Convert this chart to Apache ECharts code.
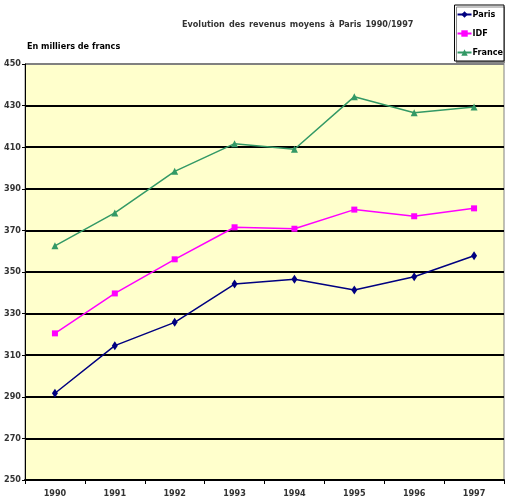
<!DOCTYPE html>
<html>
<head>
<meta charset="utf-8">
<script src="https://cdn.jsdelivr.net/npm/echarts@6/dist/echarts.min.js"></script>
<style>
  html, body { margin: 0; padding: 0; background: #fff; }
  #chart { width: 505px; height: 504px; }
</style>
</head>
<body>
<div id="chart"></div>
<script>
// données
const years = ['1990', '1991', '1992', '1993', '1994', '1995', '1996', '1997'];
const paris = [291.7, 314.6, 325.8, 344.2, 346.5, 341.3, 347.7, 357.8];
const idf = [320.5, 339.7, 356.1, 371.5, 370.8, 380.0, 376.8, 380.6];
const france = [362.6, 378.4, 398.4, 411.7, 409.0, 434.3, 426.6, 429.3];

const font = '"DejaVu Sans Condensed", "DejaVu Sans", sans-serif';

const chart = echarts.init(document.getElementById('chart'));

const gridColors = ['#000', '#000', '#000', '#000', '#000', '#000', '#000', '#000', '#000', '#000', '#808080'];

const option = {
  animation: false,
  backgroundColor: '#fff',
  title: {
    text: 'Evolution\u2002des\u2002revenus\u2002moyens\u2002à\u2002Paris\u20021990/1997',
    left: 182,
    top: 20,
    padding: 0,
    textStyle: { fontFamily: font, fontWeight: 'bold', fontSize: 9, color: '#333' }
  },
  legend: {
    orient: 'vertical',
    right: 1,
    top: 5,
    itemWidth: 14,
    itemHeight: 8,
    itemGap: 10,
    padding: [5, 1, 4, 2],
    borderColor: '#000',
    borderWidth: 1,
    backgroundColor: '#fff',
    shadowColor: '#888',
    shadowBlur: 0,
    shadowOffsetX: 2,
    shadowOffsetY: 2,
    textStyle: { fontFamily: font, fontWeight: 'bold', fontSize: 9, color: '#000', padding: [0, 0, 0, -4] },
    data: ['Paris', 'IDF', 'France']
  },
  grid: {
    left: 25,
    right: 1,
    top: 64,
    bottom: 24,
    show: true,
    backgroundColor: '#FFFFCC',
    borderColor: '#808080',
    borderWidth: 1
  },
  xAxis: {
    type: 'category',
    data: years,
    boundaryGap: true,
    axisLine: { lineStyle: { color: '#000', width: 2 } },
    axisTick: { show: true, length: 4, lineStyle: { color: '#000' } },
    axisLabel: { fontFamily: font, fontWeight: 'bold', fontSize: 9, color: '#333', margin: 9 }
  },
  yAxis: {
    type: 'value',
    min: 250,
    max: 450,
    interval: 20,
    name: 'En milliers de francs',
    nameLocation: 'end',
    nameGap: 13,
    nameTextStyle: { fontFamily: font, fontWeight: 'bold', fontSize: 9, color: '#000', align: 'left', padding: [0, 0, 0, 2] },
    axisLine: { show: true, lineStyle: { color: '#000', width: 1 } },
    axisTick: { show: true, length: 3, lineStyle: { color: '#000' } },
    axisLabel: { fontFamily: font, fontWeight: 'bold', fontSize: 9, color: '#333', margin: 4 },
    splitLine: { show: true, lineStyle: { color: gridColors, width: 2 } }
  },
  series: [
    {
      name: 'Paris', type: 'line', data: paris,
      symbol: 'diamond', symbolSize: [6, 9],
      itemStyle: { color: '#000080' },
      lineStyle: { color: '#000080', width: 1.5 }
    },
    {
      name: 'IDF', type: 'line', data: idf,
      symbol: 'rect', symbolSize: 6,
      itemStyle: { color: '#FF00FF' },
      lineStyle: { color: '#FF00FF', width: 1.5 }
    },
    {
      name: 'France', type: 'line', data: france,
      symbol: 'triangle', symbolSize: 7,
      itemStyle: { color: '#339966' },
      lineStyle: { color: '#339966', width: 1.5 }
    }
  ]
};

chart.setOption(option);
</script>
</body>
</html>
